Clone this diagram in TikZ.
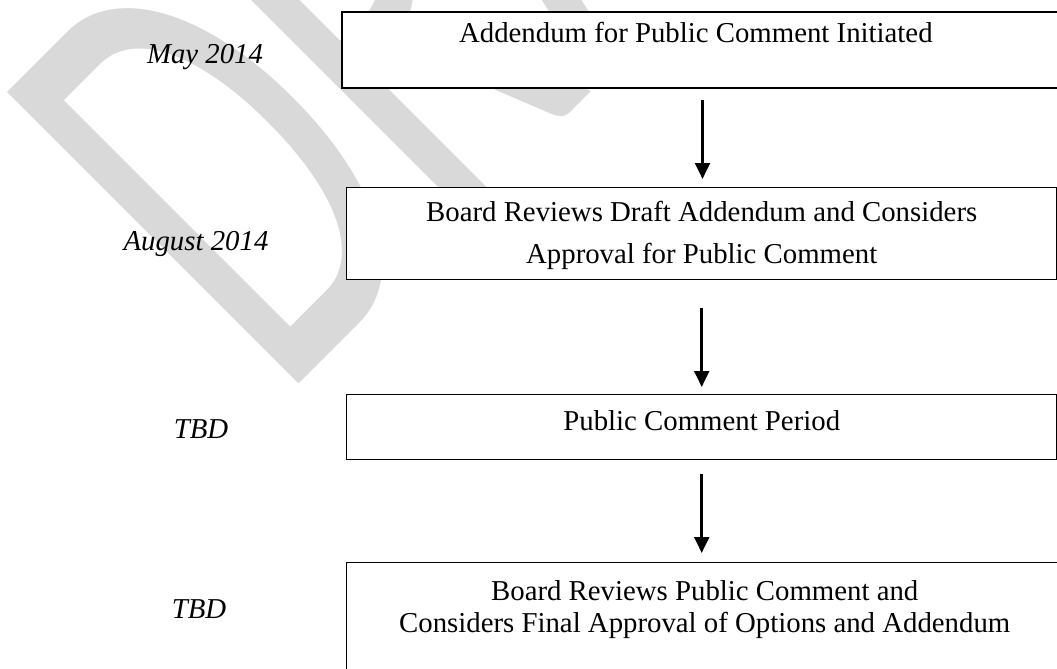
\documentclass[tikz,border=0pt]{standalone}
\usepackage{fontspec}
\setmainfont{Liberation Serif}
\newfontfamily\markfont{Carlito}
\usetikzlibrary{arrows.meta,positioning,calc}

\begin{document}
\begin{tikzpicture}
[x=0.75pt,y=-0.75pt,
every node/.style={inner sep=0pt,font=\fontsize{21.6pt}{25pt}\selectfont},
stage/.style={draw,fill=white,line width=1.1pt,anchor=north west},
when/.style={anchor=base,font=\fontsize{21.6pt}{25pt}\selectfont\itshape},
flow/.style={line width=2.2pt,-{Triangle[width=11pt,length=12pt]}}]
\useasboundingbox (0,0) rectangle (1057,668);
\begin{scope}
\clip (0,0) rectangle (1057,668);
% watermark
\node[rotate=45,anchor=base west,text=black!15,font=\markfont\fontsize{482pt}{482pt}\selectfont] (mark) at (280,403) {\scalebox{0.6}[1]{DRAFT}};
% stages
\node[stage,line width=1.5pt,minimum width=540.75pt,text height=22.5pt,text depth=34.5pt] (init) at (341,11) {Addendum for Public Comment Initiated\kern10pt};
\node[stage,minimum width=532.5pt,text height=25.5pt,text depth=43.5pt,font=\fontsize{21.6pt}{31.5pt}\selectfont] (review) at (346,187)
  {\begin{tabular}[t]{@{}c@{}}Board Reviews Draft Addendum and Considers\\Approval for Public Comment\end{tabular}};
\node[stage,minimum width=532.5pt,text height=27pt,text depth=21.75pt] (period) at (346,394) {Public Comment Period};
\node[stage,minimum width=537pt,text height=28.5pt,text depth=75pt,font=\fontsize{21.6pt}{24pt}\selectfont] (final) at (346,562)
  {\begin{tabular}[t]{@{}c@{}}Board Reviews Public Comment and\\Considers Final Approval of Options and Addendum\end{tabular}};
% dates
\node[when] (d1) at (205,63) {May 2014};
\node[when] (d2) at (196,250) {August 2014};
\node[when] (d3) at (201,438) {TBD};
\node[when] (d4) at (199,618) {TBD};
% arrows
\draw[flow,shorten <=8.25pt,shorten >=6pt] (init.south) -- (init.south |- review.north);
\draw[flow,shorten <=21pt,shorten >=5.25pt] (review.south) -- (review.south |- period.north);
\draw[flow,shorten <=10.5pt,shorten >=6.75pt] (period.south) -- (period.south |- final.north);
\end{scope}
\end{tikzpicture}
\end{document}
